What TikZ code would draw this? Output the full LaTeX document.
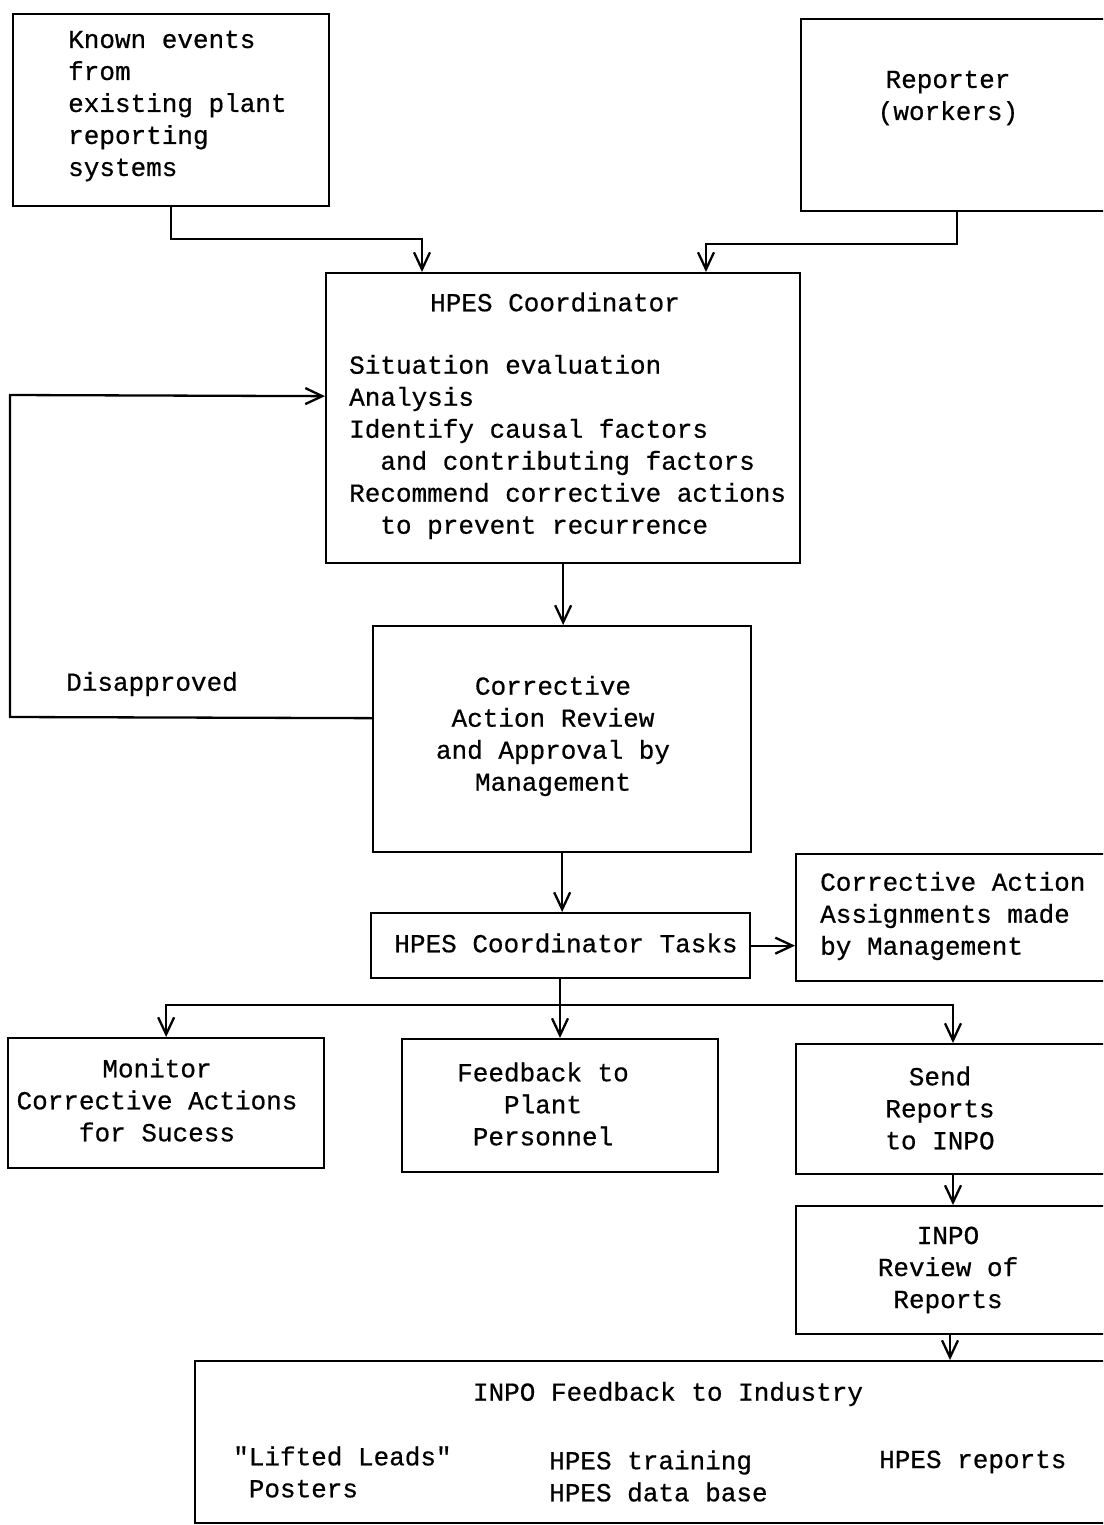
\documentclass[tikz,border=0pt]{standalone}
\usepackage{fontspec}
\newfontfamily\twfont[FakeBold=0.6]{Liberation Mono}
\usetikzlibrary{arrows.meta}
\tikzset{
 box/.style={draw, line width=2.3pt, rectangle, inner sep=0pt, anchor=north west},
 txt/.style={inner sep=0pt, font=\fontsize{26}{32}\twfont},
 ln/.style={line width=2.3pt},
 arr/.style={line width=2.3pt, -{Straight Barb[length=17pt,width=16pt,line width=2.3pt]}},
}
\begin{document}
\begin{tikzpicture}[x=1pt,y=-1pt]
\useasboundingbox (0,0) rectangle (1103,1525);
\clip (0,0) rectangle (1103,1525);
% boxes
\node[box, minimum width=316pt, minimum height=192pt] (known) at (12,13) {};
\node[box, minimum width=330pt, minimum height=192pt] (reporter) at (800,18) {};
\node[box, minimum width=474pt, minimum height=290pt] (hpes) at (325,272) {};
\node[box, minimum width=378pt, minimum height=226pt] (review) at (372,625) {};
\node[box, minimum width=379pt, minimum height=65pt] (tasks) at (370,912) {};
\node[box, minimum width=330pt, minimum height=127pt] (assign) at (795,853) {};
\node[box, minimum width=316pt, minimum height=130pt] (monitor) at (7,1037) {};
\node[box, minimum width=316pt, minimum height=133pt] (feedback) at (401,1038) {};
\node[box, minimum width=330pt, minimum height=130pt] (send) at (795,1043) {};
\node[box, minimum width=330pt, minimum height=128pt] (inporev) at (795,1205) {};
\node[box, minimum width=930pt, minimum height=162pt] (industry) at (194,1360) {};
% texts
\node[txt, anchor=west, align=left] (knowntxt) at (68,106) {Known events\\from\\existing plant\\reporting\\systems};
\node[txt, align=center] (reptxt) at (948,98) {Reporter\\(workers)};
\node[txt] (hpestitle) at (555,302) {HPES Coordinator};
\node[txt, anchor=west, align=left] (hpestxt) at (349,447) {Situation evaluation\\Analysis\\Identify causal factors\\\hspace*{31.2pt}and contributing factors\\Recommend corrective actions\\\hspace*{31.2pt}to prevent recurrence};
\node[txt, align=center] (reviewtxt) at (553,736) {Corrective\\Action Review\\and Approval by\\Management};
\node[txt] (taskstxt) at (566,943) {HPES Coordinator Tasks};
\node[txt, anchor=west, align=left] (assigntxt) at (820,916) {Corrective Action\\Assignments made\\by Management};
\node[txt, align=center] (monitortxt) at (157,1100) {Monitor\\Corrective Actions\\for Sucess};
\node[txt, align=center] (feedbacktxt) at (543,1104) {Feedback to\\Plant\\Personnel};
\node[txt, align=center] (sendtxt) at (940,1108) {Send\\Reports\\to INPO};
\node[txt, align=center] (inporevtxt) at (948,1270) {INPO\\Review of\\Reports};
\node[txt] (industrytitle) at (668,1394) {INPO Feedback to Industry};
\node[txt, anchor=west, align=left] (liftedtxt) at (233,1472) {"Lifted Leads"\\\hspace*{15.6pt}Posters};
\node[txt, anchor=west, align=left] (trainingtxt) at (549,1476) {HPES training\\HPES data base};
\node[txt, anchor=west] (reportstxt) at (879,1462) {HPES reports};
\node[txt, anchor=west] (disapproved) at (66,684) {Disapproved};
% connectors
\draw[arr] (known.south) -- ++(0,32) -| ([xshift=97pt]hpes.north west);
\draw[arr] ([xshift=157pt]reporter.south west) -- ++(0,32) -| ([xshift=381pt]hpes.north west);
\draw[arr] (hpes.south) -- (hpes.south |- review.north);
\coordinate (lpb) at (10,717);
\coordinate (lpt) at (10,395);
\draw[arr] ([yshift=21pt]review.west) -- (lpb) -- (lpt) -- ([yshift=22pt]hpes.west);
\draw[arr] (review.south) -- (review.south |- tasks.north);
\draw[arr] (tasks.east) -- (tasks.east -| assign.west);
\coordinate (j) at (560,1005);
\draw[ln] (tasks.south -| j) -- (j);
\draw[arr] (j) -| (monitor.north);
\draw[arr] (j) -- (j |- feedback.north);
\draw[arr] (j) -| ([xshift=158pt]send.north west);
\draw[arr] ([xshift=158pt]send.south west) -- ([xshift=158pt]inporev.north west);
\draw[arr] ([xshift=155pt]inporev.south west) -- ([xshift=155pt]inporev.south west |- industry.north);
\end{tikzpicture}
\end{document}
